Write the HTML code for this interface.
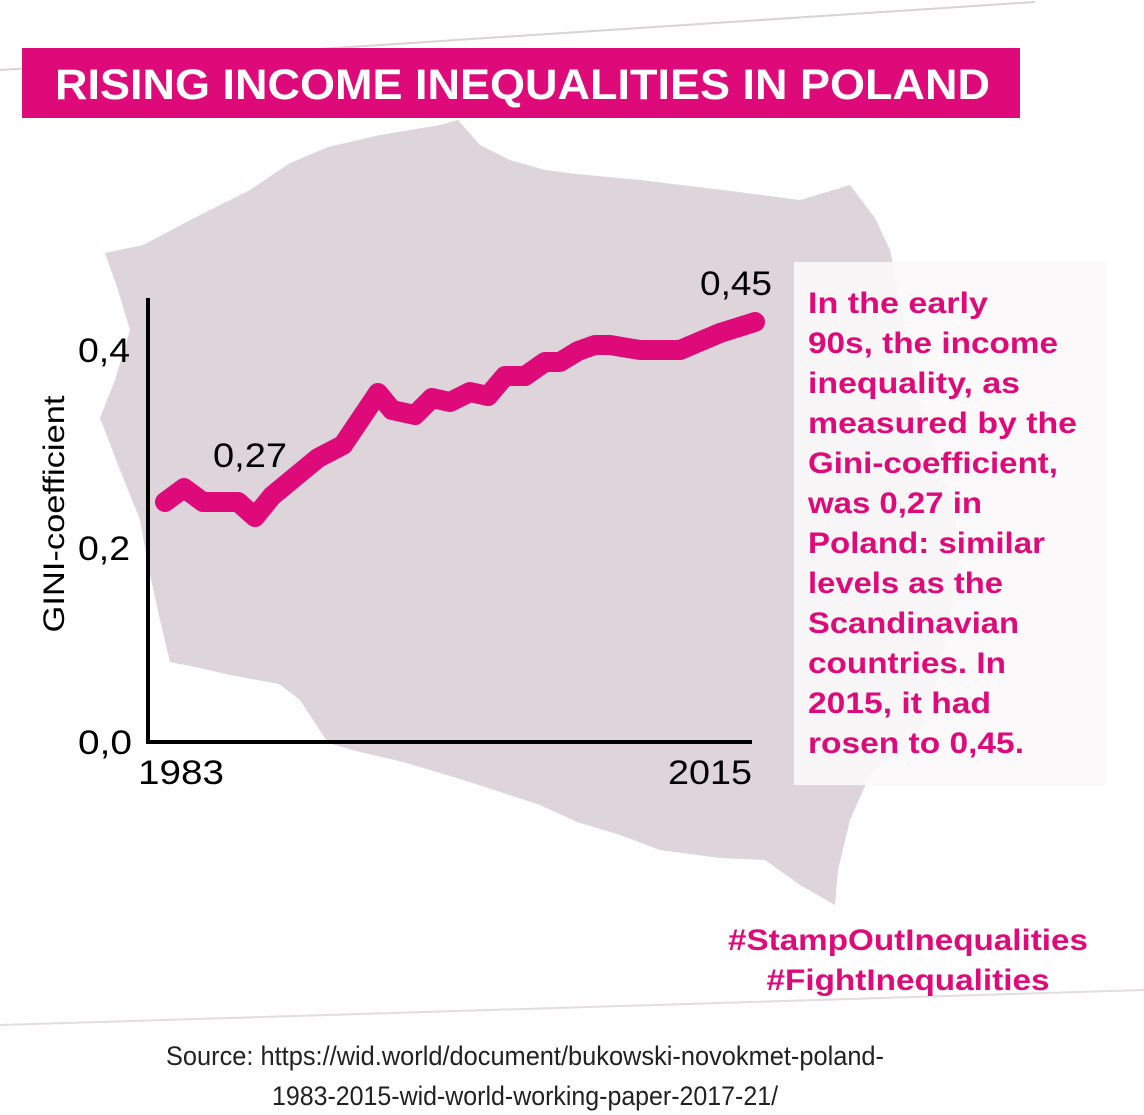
<!DOCTYPE html>
<html><head><meta charset="utf-8"><style>
html,body{margin:0;padding:0;background:#fff;}
svg{display:block;}
text{font-family:"Liberation Sans","DejaVu Sans",sans-serif;}
</style></head><body>
<svg width="1144" height="1115" viewBox="0 0 1144 1115" xmlns="http://www.w3.org/2000/svg">
<line x1="0" y1="70" x2="1035" y2="2" stroke="#d9d2d6" stroke-width="2"/>
<line x1="0" y1="1025" x2="1144" y2="990" stroke="#e3dde0" stroke-width="2"/>
<polygon fill="#ddd5da" points="105,253 143,245 200,215 250,190 290,163 328,147 380,135 440,125 458,120 480,145 510,160 545,170 577,174 640,180 723,190 800,200 850,185 875,218 890,250 900,300 915,380 935,450 955,510 960,560 950,620 935,690 915,740 870,775 850,820 838,870 835,905 800,885 765,860 720,858 660,850 620,835 577,822 540,805 479,785 430,770 403,762 360,752 328,743 300,700 279,684 230,675 200,668 170,662 160,620 149,570 140,520 120,470 100,418 115,380 130,330 118,290"/>
<rect x="22" y="48" width="998" height="70" fill="#df0a7a"/>
<text x="55" y="99" font-size="43" font-weight="bold" fill="#fff" textLength="935" lengthAdjust="spacingAndGlyphs">RISING INCOME INEQUALITIES IN POLAND</text>
<rect x="794" y="262" width="312" height="523" fill="#fbf9fa" opacity="0.92"/>
<g font-size="30" fill="#df0a7a" font-weight="bold">
<text x="808" y="313" textLength="180" lengthAdjust="spacingAndGlyphs">In the early</text>
<text x="808" y="353" textLength="250" lengthAdjust="spacingAndGlyphs">90s, the income</text>
<text x="808" y="393" textLength="212" lengthAdjust="spacingAndGlyphs">inequality, as</text>
<text x="808" y="433" textLength="269" lengthAdjust="spacingAndGlyphs">measured by the</text>
<text x="808" y="473" textLength="250" lengthAdjust="spacingAndGlyphs">Gini-coefficient,</text>
<text x="808" y="513" textLength="174" lengthAdjust="spacingAndGlyphs">was 0,27 in</text>
<text x="808" y="553" textLength="237" lengthAdjust="spacingAndGlyphs">Poland: similar</text>
<text x="808" y="593" textLength="195" lengthAdjust="spacingAndGlyphs">levels as the</text>
<text x="808" y="633" textLength="211" lengthAdjust="spacingAndGlyphs">Scandinavian</text>
<text x="808" y="673" textLength="198" lengthAdjust="spacingAndGlyphs">countries. In</text>
<text x="808" y="713" textLength="183" lengthAdjust="spacingAndGlyphs">2015, it had</text>
<text x="808" y="753" textLength="216" lengthAdjust="spacingAndGlyphs">rosen to 0,45.</text>
</g>
<polyline fill="none" stroke="#000" stroke-width="4" points="148,298 148,742 752,742"/>
<polyline fill="none" stroke="#df0a7a" stroke-width="20" stroke-linecap="round" stroke-linejoin="round" points="165,502 184,488 203,502 238,502 255,517 272,496 318,458 343,445 378,393 392,410 415,415 432,398 450,402 470,392 488,396 505,376 525,376 545,362 560,362 578,351 595,345 610,345 640,350 680,350 720,333 755,322"/>
<g font-size="34" fill="#000">
<text x="700" y="295" textLength="72" lengthAdjust="spacingAndGlyphs">0,45</text>
<text x="213" y="467" textLength="74" lengthAdjust="spacingAndGlyphs">0,27</text>
<text x="78" y="362" textLength="52" lengthAdjust="spacingAndGlyphs">0,4</text>
<text x="78" y="560" textLength="52" lengthAdjust="spacingAndGlyphs">0,2</text>
<text x="78" y="754" textLength="54" lengthAdjust="spacingAndGlyphs">0,0</text>
<text x="138" y="784" textLength="86" lengthAdjust="spacingAndGlyphs">1983</text>
<text x="668" y="784" textLength="84" lengthAdjust="spacingAndGlyphs">2015</text>
<text transform="translate(64,514) rotate(-90)" text-anchor="middle" font-size="30" textLength="237" lengthAdjust="spacingAndGlyphs">GINI-coefficient</text>
</g>
<g font-size="30" fill="#df0a7a" font-weight="bold" text-anchor="middle">
<text x="908" y="950" textLength="360" lengthAdjust="spacingAndGlyphs">#StampOutInequalities</text>
<text x="908" y="990" textLength="283" lengthAdjust="spacingAndGlyphs">#FightInequalities</text>
</g>
<g font-size="27" fill="#222" text-anchor="middle">
<text x="525" y="1065" textLength="718" lengthAdjust="spacingAndGlyphs">Source: https://wid.world/document/bukowski-novokmet-poland-</text>
<text x="525" y="1105" textLength="506" lengthAdjust="spacingAndGlyphs">1983-2015-wid-world-working-paper-2017-21/</text>
</g>
</svg>
</body></html>
